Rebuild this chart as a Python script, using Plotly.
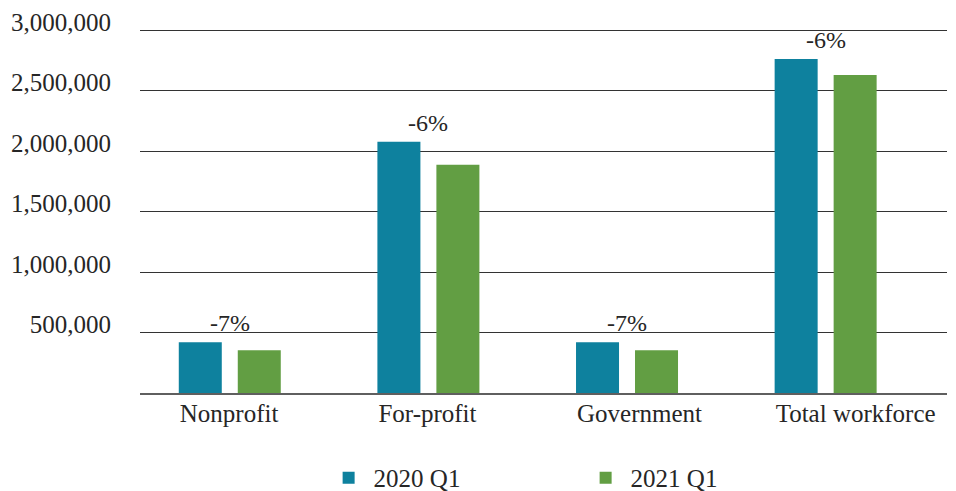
'''
    Workforce by sector, 2020 Q1 vs 2021 Q1 as a grouped bar chart.
'''

import plotly.graph_objects as go

# Data
CATEGORIES = ['Nonprofit', 'For-profit', 'Government', 'Total workforce']
VALUES_2020 = [420000, 2077000, 420000, 2761000]
VALUES_2021 = [354000, 1887000, 354000, 2629000]
CHANGE_LABELS = ['-7%', '-6%', '-7%', '-6%']
SERIES_NAMES = ['2020 Q1', '2021 Q1']
Y_TICKS = [0, 500000, 1000000, 1500000, 2000000, 2500000, 3000000]

FONT = 'Liberation Serif'
TEXT_COLOR = '#262626'
COLORS = ['#0E819E', '#629E43']


def build_figure():
    '''
        Builds the grouped bar chart with the change labels on top.
    '''
    fig = go.Figure()

    for name, values, color in zip(SERIES_NAMES, [VALUES_2020, VALUES_2021], COLORS):
        fig.add_trace(go.Bar(
            x=CATEGORIES,
            y=values,
            name=name,
            marker=dict(color=color, line=dict(width=0)),
            hoverinfo='skip'
        ))

    # percentage change written above each group
    for cat, top, label in zip(CATEGORIES, VALUES_2020, CHANGE_LABELS):
        fig.add_annotation(
            x=cat, y=top, text=label,
            showarrow=False, yanchor='bottom', yshift=4,
            font=dict(family=FONT, size=24, color=TEXT_COLOR)
        )

    fig.update_layout(
        width=956, height=491,
        template='simple_white',
        paper_bgcolor='white',
        plot_bgcolor='white',
        font=dict(family=FONT, size=25, color=TEXT_COLOR),
        barmode='group',
        bargap=0.406,
        bargroupgap=0.271,
        margin=dict(l=140, r=9, t=29, b=98, autoexpand=False),
        showlegend=True,
        legend=dict(
            orientation='h',
            x=0.546, xanchor='center',
            y=-0.17, yanchor='top',
            font=dict(family=FONT, size=25, color=TEXT_COLOR),
            itemwidth=40,
            entrywidth=202, entrywidthmode='pixels',
            bgcolor='rgba(0,0,0,0)'
        )
    )

    fig.update_xaxes(
        range=[-0.452, 3.611],
        showline=True, linecolor='#5f5f5f', linewidth=2,
        ticks='', showgrid=False,
        ticklabelposition='outside right',
        ticklabelshift=-51,
        ticklabelstandoff=-3,
        tickfont=dict(family=FONT, size=25, color=TEXT_COLOR)
    )

    fig.update_yaxes(
        range=[0, 3010000],
        tickvals=Y_TICKS,
        ticktext=['' if v == 0 else f'{v:,}' for v in Y_TICKS],
        showline=False, ticks='',
        showgrid=True, gridcolor='#333333', gridwidth=1.4,
        zeroline=False,
        ticklabelstandoff=28,
        ticklabelshift=-8,
        tickfont=dict(family=FONT, size=25, color=TEXT_COLOR)
    )
    return fig


fig = build_figure()
# drop the default body margin so the figure sits at the page corner
fig.write_html('out.html', config={'displayModeBar': False},
               post_script="document.body.style.margin='0';")
